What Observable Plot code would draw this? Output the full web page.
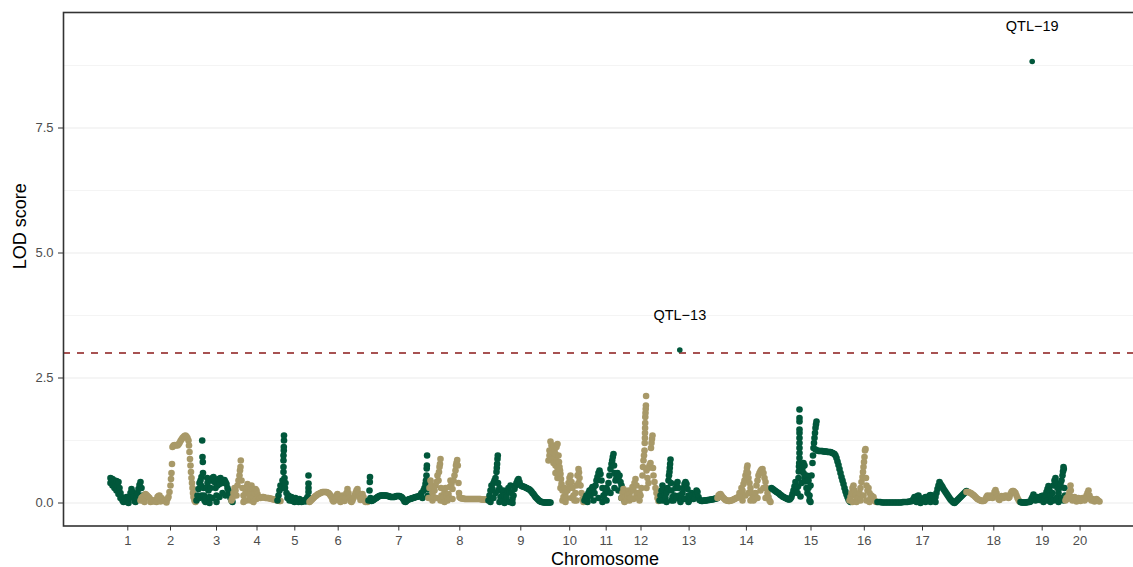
<!DOCTYPE html>
<html><head><meta charset="utf-8">
<script src="https://cdn.jsdelivr.net/npm/d3@7"></script>
<script src="https://cdn.jsdelivr.net/npm/@observablehq/plot@0.6"></script>
<style>html,body{margin:0;padding:0;background:#fff;overflow:hidden;} svg{max-width:none !important;}</style>
</head><body><div id="chart"></div>
<script>
// Cumulative genome position (cM) and LOD score per marker, one array per chromosome
const chr1 = [[47,0.5],[47,0.4],[48,0.45],[49,0.48],[49,0.35],[50,0.42],[51,0.45],[51,0.3],[52,0.38],[53,0.44],[53,0.25],[54,0.35],[55,0.42],[55,0.18],[56,0.3],[57,0.2],[57,0.1],[58,0.12],[59,0.05],[60,0.02],[61,0.08],[62,0.03],[63,0.12],[64,0.05],[65,0.0],[66,0.1],[67,0.2],[68,0.28],[69,0.22],[70,0.12],[71,0.04],[72,0.02],[73,0.1],[74,0.2],[75,0.28],[76,0.36],[77,0.42],[78,0.3],[79,0.15],[80,0.05]];
const chr2 = [[77,0.05],[78,0.1],[79,0.12],[80,0.14],[81,0.02],[82,0.18],[83,0.16],[84,0.14],[85,0.12],[86,0.1],[87,0.02],[88,0.06],[89,0.04],[90,0.03],[91,0.04],[92,0.06],[93,0.02],[94,0.12],[95,0.14],[96,0.15],[97,0.03],[98,0.1],[99,0.07],[100,0.05],[101,0.04],[102,0.04],[103,0.01],[104,0.08],[105,0.12],[106,0.22],[107,0.35],[107.5,0.48],[108,0.6],[108.5,0.78],[109,1.12],[110,1.15],[111,1.16],[112,1.15],[113,1.16],[114,1.15],[115,1.17],[116,1.2],[117,1.24],[118,1.27],[119,1.3],[120,1.32],[121,1.34],[122,1.35],[123,1.33],[124,1.3],[125,1.25],[125.5,1.15],[126,1.02],[126.5,0.88],[127,0.75],[127.5,0.62],[128,0.5],[128.5,0.4],[129,0.3],[129.5,0.2],[130,0.12],[131,0.05],[132,0.02]];
const chr3 = [[133,0.05],[134,0.15],[135,0.28],[136,0.4],[136,0.1],[137,0.45],[137.5,0.35],[138,0.52],[138,0.15],[138.7,1.25],[139,0.92],[139.3,0.82],[139.5,0.6],[140,0.3],[140.5,0.15],[141,0.05],[142,0.1],[142,0.02],[143,0.3],[143.7,0.5],[144,0.4],[145,0.25],[146,0.12],[146,0.0],[147,0.3],[148,0.45],[149,0.5],[149,0.1],[150,0.52],[151,0.42],[152,0.3],[153,0.15],[153,0.02],[154,0.35],[155,0.48],[156,0.38],[156,0.12],[157,0.5],[158,0.45],[159,0.4],[159,0.2],[160,0.45],[161,0.46],[162,0.42],[162,0.15],[163,0.38],[164,0.3],[165,0.25],[166,0.15],[167,0.1],[168,0.05],[169,0.02]];
const chr4 = [[168,0.05],[169,0.1],[170,0.2],[171,0.3],[172,0.25],[173,0.15],[174,0.35],[175,0.45],[176,0.55],[176.5,0.65],[177,0.72],[177.3,0.85],[178,0.45],[179,0.3],[180,0.15],[180,0.02],[181,0.05],[182,0.2],[183,0.32],[183,0.05],[184,0.38],[185,0.3],[186,0.15],[187,0.25],[187,0.05],[188,0.35],[189,0.28],[190,0.12],[190,0.02],[191,0.2],[192,0.28],[193,0.25],[193,0.08],[194,0.18],[195,0.12],[196,0.11],[197,0.1],[198,0.11],[199,0.12],[200,0.12],[201,0.11],[202,0.1],[203,0.1],[204,0.1],[205,0.1],[206,0.09],[207,0.09],[208,0.08],[209,0.08],[210,0.07],[211,0.07],[212,0.06],[213,0.06],[214,0.05],[215,0.05],[216,0.04],[217,0.04]];
const chr5 = [[214,0.05],[215,0.15],[216,0.25],[217,0.35],[218,0.3],[219,0.45],[220,0.62],[220,0.72],[220,0.85],[220,0.95],[220.3,1.05],[220.3,1.12],[220.5,1.25],[220.5,1.35],[221,0.5],[221.5,0.3],[222,0.4],[223,0.2],[224,0.1],[225,0.15],[226,0.05],[227,0.1],[228,0.12],[229,0.04],[230,0.08],[231,0.02],[232,0.1],[233,0.06],[234,0.04],[235,0.02],[236,0.08],[237,0.05],[238,0.02],[239,0.03],[240,0.04],[241,0.06],[242,0.03],[243,0.08],[244,0.12],[245,0.55],[245,0.39],[245,0.3],[245,0.22],[245.5,0.1],[246,0.05]];
const chr6 = [[246,0.02],[247,0.04],[248,0.06],[249,0.08],[250,0.1],[251,0.12],[252,0.14],[253,0.15],[254,0.17],[255,0.18],[256,0.19],[257,0.2],[258,0.21],[259,0.22],[260,0.22],[261,0.22],[262,0.22],[263,0.22],[264,0.21],[265,0.2],[266,0.18],[267,0.15],[268,0.12],[269,0.06],[270,0.03],[271,0.05],[272,0.1],[273,0.15],[274,0.18],[275,0.12],[276,0.05],[277,0.02],[278,0.08],[279,0.15],[280,0.1],[281,0.04],[282,0.1],[283,0.2],[284,0.28],[285,0.2],[286,0.1],[287,0.04],[288,0.02],[289,0.05],[290,0.1],[291,0.15],[292,0.2],[293,0.25],[294,0.28],[295,0.2],[296,0.12],[297,0.06],[298,0.1],[299,0.18],[300,0.12],[301,0.05],[302,0.02],[303,0.04],[304,0.02]];
const chr7 = [[305,0.05],[306,0.25],[306.3,0.42],[306.5,0.52],[307,0.1],[308,0.04],[309,0.05],[310,0.06],[311,0.08],[312,0.09],[313,0.1],[314,0.12],[315,0.13],[316,0.14],[317,0.15],[318,0.15],[319,0.15],[320,0.15],[321,0.15],[322,0.15],[323,0.15],[324,0.14],[325,0.14],[326,0.13],[327,0.12],[328,0.12],[329,0.12],[330,0.12],[331,0.12],[332,0.13],[333,0.14],[334,0.14],[335,0.14],[336,0.14],[337,0.13],[338,0.12],[339,0.1],[340,0.07],[341,0.03],[342,0.02],[343,0.04],[344,0.06],[345,0.07],[346,0.08],[347,0.08],[348,0.09],[349,0.1],[350,0.1],[351,0.11],[352,0.12],[353,0.12],[354,0.13],[355,0.13],[356,0.14],[357,0.16],[358,0.2],[359,0.1],[360,0.25],[361,0.3],[362,0.38],[362.5,0.45],[363,0.55],[363.2,0.69],[363.4,0.75],[363.6,0.95],[364,0.28],[364.5,0.15]];
const chr8 = [[365,0.1],[366,0.3],[367,0.45],[368,0.35],[369,0.2],[369,0.05],[370,0.12],[371,0.25],[372,0.35],[373,0.42],[373,0.1],[374,0.55],[375,0.45],[375.5,0.62],[376,0.72],[376.5,0.78],[377,0.88],[377.5,0.3],[377,0.05],[378,0.15],[379,0.05],[380,0.12],[381,0.22],[381,0.02],[382,0.3],[383,0.15],[384,0.05],[385,0.18],[386,0.32],[386,0.1],[387,0.45],[388,0.38],[389,0.28],[389,0.08],[390,0.45],[391,0.55],[392,0.65],[392.5,0.75],[393,0.8],[393.7,0.86],[394.3,0.75],[395,0.4],[395.5,0.2],[396,0.12],[397,0.1],[398,0.09],[399,0.09],[400,0.09],[401,0.08],[402,0.08],[403,0.08],[404,0.08],[405,0.08],[406,0.08],[407,0.08],[408,0.08],[409,0.08],[410,0.08],[411,0.08],[412,0.08],[413,0.08],[414,0.08],[415,0.08],[416,0.08],[417,0.08],[418,0.07],[419,0.07],[420,0.07],[421,0.07],[422,0.07],[423,0.07]];
const chr9 = [[425,0.05],[426,0.15],[427,0.25],[427,0.02],[428,0.35],[429,0.28],[430,0.4],[430,0.1],[431,0.45],[432,0.5],[432,0.2],[433,0.62],[433.3,0.7],[433.6,0.78],[434,0.88],[434.3,0.95],[434.5,0.4],[435,0.25],[436,0.3],[436,0.02],[437,0.12],[438,0.05],[439,0.15],[440,0.25],[441,0.15],[441,0.0],[442,0.05],[443,0.12],[444,0.25],[445,0.3],[446,0.22],[446,0.02],[447,0.35],[448,0.2],[449,0.08],[449,0.0],[450,0.15],[451,0.28],[452,0.35],[453,0.4],[454,0.45],[455,0.48],[456,0.42],[457,0.36],[458,0.34],[459,0.33],[460,0.33],[461,0.32],[462,0.31],[463,0.3],[464,0.29],[465,0.28],[466,0.27],[467,0.25],[468,0.23],[469,0.2],[470,0.18],[471,0.15],[472,0.12],[473,0.1],[474,0.08],[475,0.06],[476,0.04],[477,0.03],[478,0.02],[479,0.02],[480,0.01],[481,0.01],[482,0.01],[483,0.01],[484,0.01],[485,0.01],[486,0.01],[487,0.01]];
const chr10 = [[485,0.85],[486,1.05],[486,0.95],[487,1.23],[487,1.0],[488,1.15],[488,0.9],[489,1.1],[489,0.88],[490,1.15],[490,0.8],[491,1.05],[491,0.9],[492,0.98],[492,0.75],[492,0.6],[493,1.12],[493,0.85],[494,1.18],[494,0.7],[494,0.5],[495,0.95],[495.5,0.82],[496,0.72],[496.5,0.65],[497,0.58],[497,0.3],[497.5,0.48],[498,0.38],[499,0.25],[499,0.05],[500,0.12],[501,0.3],[502,0.2],[502,0.02],[503,0.1],[504,0.25],[505,0.4],[506,0.5],[506,0.3],[507,0.55],[508,0.42],[508,0.1],[509,0.3],[510,0.15],[511,0.05],[512,0.2],[513,0.35],[513,0.05],[514,0.55],[515,0.68],[515,0.4],[515.5,0.61],[516,0.5],[517,0.35],[518,0.2],[519,0.08],[520,0.02]];
const chr11 = [[521,0.05],[522,0.1],[523,0.15],[524,0.1],[524,0.02],[525,0.2],[526,0.25],[527,0.15],[528,0.28],[529,0.32],[530,0.3],[530,0.05],[531,0.2],[532,0.35],[533,0.45],[534,0.52],[535,0.6],[535,0.1],[536,0.65],[537,0.58],[538,0.45],[539,0.3],[539,0.02],[540,0.15],[541,0.08],[542,0.2],[543,0.3],[543,0.05],[544,0.25],[545,0.4],[546,0.55],[547,0.68],[547,0.2],[548,0.78],[548.7,0.85],[549.3,0.92],[550,0.98],[550.5,0.75],[551,0.6],[551,0.3],[552,0.45],[553,0.52],[554,0.6],[555,0.5],[555,0.25],[556,0.55],[557,0.42],[558,0.35],[558,0.1],[559,0.25],[560,0.15],[561,0.05]];
const chr12 = [[558,0.1],[559,0.2],[560,0.28],[561,0.22],[561,0.02],[562,0.12],[563,0.05],[564,0.15],[565,0.25],[566,0.18],[566,0.05],[567,0.1],[568,0.25],[569,0.32],[570,0.25],[570,0.08],[571,0.4],[572,0.48],[573,0.35],[573,0.15],[574,0.2],[575,0.1],[576,0.05],[576,0.2],[577,0.15],[578,0.3],[579,0.55],[579.5,0.72],[580,0.85],[580.5,0.95],[581,1.05],[581.2,1.2],[581.4,1.3],[581.5,1.4],[581.6,1.5],[581.7,1.6],[581.8,1.72],[582,1.8],[582.2,1.88],[582.4,1.95],[582.6,2.14],[583,0.65],[583,0.3],[584,0.5],[585,0.7],[585,0.4],[586,0.75],[587,0.8],[587.5,1.1],[588,1.2],[588.5,1.28],[589,1.35],[589.5,0.7],[590,0.55],[591,0.42],[592,0.3],[593,0.2],[594,0.1],[595,0.04]];
const chr13 = [[596,0.05],[597,0.15],[598,0.25],[599,0.35],[599,0.05],[600,0.28],[601,0.15],[602,0.1],[603,0.2],[603,0.02],[604,0.3],[605,0.45],[605.5,0.55],[606,0.62],[606.3,0.7],[606.6,0.78],[607,0.87],[607.5,0.4],[608,0.25],[608,0.05],[609,0.12],[610,0.05],[611,0.15],[612,0.3],[613,0.38],[613,0.1],[614,0.42],[615,0.3],[616,0.15],[617,0.05],[617,0.02],[618,0.1],[619,0.2],[620,0.3],[621,0.38],[621,0.08],[622,0.42],[623,0.38],[624,0.28],[625,0.15],[625,0.02],[626,0.06],[627,0.12],[628,0.2],[629,0.15],[630,0.08],[631,0.1],[632,0.18],[633,0.25],[634,0.22],[635,0.12],[636,0.06],[637,0.05],[638,0.04],[639,0.04],[640,0.05],[641,0.05],[642,0.05],[643,0.05],[644,0.06],[645,0.06],[646,0.06],[647,0.07],[648,0.07],[649,0.07],[650,0.08],[651,0.08],[652,0.09],[653,0.09],[654,0.1]];
const chr14 = [[654,0.1],[655,0.15],[656,0.17],[657,0.18],[658,0.15],[659,0.12],[660,0.1],[661,0.08],[662,0.06],[663,0.05],[664,0.05],[665,0.04],[666,0.04],[667,0.05],[668,0.05],[669,0.06],[670,0.07],[671,0.08],[672,0.09],[673,0.1],[674,0.11],[675,0.12],[676,0.2],[677,0.15],[678,0.3],[679,0.25],[679,0.05],[680,0.38],[681,0.45],[682,0.55],[682,0.15],[683,0.62],[683.5,0.7],[684,0.75],[684.5,0.6],[685,0.5],[685,0.2],[686,0.4],[687,0.3],[687,0.05],[688,0.2],[689,0.1],[690,0.05],[691,0.08],[692,0.2],[693,0.35],[694,0.45],[694,0.1],[695,0.55],[696,0.6],[697,0.64],[697,0.25],[698,0.67],[699,0.68],[700,0.6],[700,0.3],[701,0.5],[702,0.42],[702,0.1],[703,0.3],[704,0.2],[705,0.12],[706,0.05],[707,0.02]];
const chr15 = [[708,0.3],[709,0.28],[710,0.27],[711,0.25],[712,0.24],[713,0.22],[714,0.21],[715,0.2],[716,0.18],[717,0.16],[718,0.15],[719,0.13],[720,0.12],[721,0.11],[722,0.1],[723,0.09],[724,0.08],[725,0.07],[726,0.07],[727,0.09],[728,0.12],[729,0.18],[730,0.25],[731,0.33],[732,0.42],[733,0.3],[734,0.2],[734.5,0.33],[735,0.5],[735.3,0.63],[735.5,0.73],[735.7,0.8],[736,0.9],[736,1.0],[736,1.1],[736,1.2],[736,1.3],[736,1.4],[736,1.47],[736,1.63],[736,1.7],[736,1.87],[737,0.13],[738,0.4],[739,0.7],[740,0.6],[740,0.8],[741,0.5],[741,0.75],[742,0.43],[743,0.3],[743,0.55],[744,0.2],[744,0.45],[745,0.45],[745,0.3],[746,0.15],[746,0.05],[747,0.35],[747,0.02],[748,0.55],[749,0.8],[749.5,0.95],[750,1.1],[750.5,1.2],[751,1.3],[751.5,1.4],[752,1.5],[752.5,1.57],[753,1.63],[752,1.07],[754,1.05],[755,1.04],[756,1.04],[757,1.04],[758,1.04],[759,1.04],[760,1.03],[761,1.03],[762,1.03],[763,1.03],[764,1.02],[765,1.02],[766,1.02],[767,1.02],[768,1.01],[769,1.0],[770,0.99],[771,0.98],[772,0.95],[773,0.9],[774,0.83],[775,0.76],[776,0.68],[777,0.6],[778,0.52],[779,0.45],[780,0.38],[781,0.3],[782,0.23],[783,0.17],[784,0.12],[785,0.07],[786,0.04],[787,0.02]];
const chr16 = [[786,0.05],[787,0.12],[788,0.2],[789,0.3],[789,0.02],[790,0.35],[791,0.25],[792,0.15],[793,0.08],[793,0.02],[794,0.05],[795,0.1],[796,0.2],[797,0.3],[797,0.05],[798,0.42],[799,0.52],[799.5,0.62],[800,0.72],[800,0.15],[800.5,0.82],[801,0.92],[801.5,1.05],[802,1.08],[802.5,0.5],[803,0.35],[803,0.05],[804,0.25],[805,0.3],[806,0.2],[806,0.02],[807,0.1],[808,0.15],[809,0.08],[810,0.12],[811,0.05],[812,0.03],[813,0.02]];
const chr17 = [[814,0.02],[815.5,0.02],[817,0.02],[818.5,0.01],[820,0.01],[821.5,0.01],[823,0.01],[824.5,0.01],[826,0.01],[827.5,0.01],[829,0.01],[830.5,0.01],[832,0.01],[833.5,0.01],[835,0.01],[836.5,0.01],[838,0.01],[839.5,0.02],[841,0.02],[842.5,0.02],[844,0.02],[845.5,0.03],[847,0.03],[848.5,0.04],[849,0.05],[850,0.08],[851,0.12],[852,0.05],[853,0.1],[853,0.02],[854,0.14],[855,0.15],[856,0.1],[857,0.05],[857,0.0],[858,0.08],[859,0.04],[860,0.06],[861,0.1],[862,0.12],[862,0.02],[863,0.08],[864,0.05],[865,0.12],[866,0.15],[867,0.16],[867,0.02],[868,0.12],[869,0.15],[870,0.1],[871,0.05],[872,0.12],[872,0.02],[873,0.2],[874,0.28],[875,0.35],[876,0.42],[877,0.38],[878,0.35],[879,0.32],[880,0.28],[881,0.25],[882,0.22],[883,0.19],[884,0.16],[885,0.13],[886,0.1],[887,0.07],[888,0.05],[889,0.03],[890,0.01],[891,0.0],[892,0.02],[893,0.04],[894,0.06],[895,0.08],[896,0.1],[897,0.12],[898,0.14],[899,0.16],[900,0.18],[901,0.2],[902,0.22],[903,0.24]];
const chr18 = [[903,0.22],[904,0.22],[905,0.22],[906,0.21],[907,0.2],[908,0.19],[909,0.17],[910,0.16],[911,0.14],[912,0.12],[913,0.1],[914,0.08],[915,0.07],[916,0.06],[917,0.05],[918,0.04],[919,0.04],[920,0.04],[921,0.05],[922,0.08],[923,0.12],[924,0.15],[925,0.1],[926,0.12],[927,0.15],[928,0.12],[929,0.1],[930,0.15],[931,0.22],[932,0.26],[933,0.2],[934,0.12],[935,0.08],[936,0.06],[937,0.1],[938,0.14],[939,0.12],[940,0.1],[941,0.12],[942,0.15],[943,0.14],[944,0.12],[945,0.1],[946,0.12],[947,0.18],[948,0.22],[949,0.24],[950,0.24],[951,0.22],[952,0.2],[953,0.15],[954,0.1],[955,0.06],[956,0.03]];
const chr19 = [[957,0.02],[958,0.01],[959,0.01],[960,0.01],[961,0.01],[962,0.01],[963,0.01],[964,0.02],[965,0.02],[966,0.02],[967,0.03],[968,0.08],[969,0.12],[970,0.17],[971,0.1],[972,0.05],[973,0.08],[974,0.12],[975,0.1],[976,0.06],[977,0.1],[978,0.14],[979,0.12],[980,0.15],[980,0.02],[981,0.1],[982,0.15],[983,0.22],[984,0.28],[984,0.05],[985,0.34],[986,0.25],[987,0.15],[987,0.02],[988,0.08],[989,0.2],[990,0.35],[990,0.05],[991,0.45],[992,0.5],[993,0.4],[993,0.1],[994,0.3],[995,0.2],[995,0.02],[996,0.3],[997,0.38],[998,0.45],[998,0.1],[999,0.55],[999.5,0.63],[1000,0.72],[1000,0.05],[1000.3,0.68],[1001,0.3],[1001.5,0.15]];
const chr20 = [[1002,0.05],[1003,0.1],[1004,0.08],[1005,0.15],[1006,0.22],[1007,0.35],[1007.3,0.25],[1008,0.12],[1009,0.05],[1010,0.08],[1011,0.12],[1012,0.06],[1013,0.03],[1014,0.06],[1015,0.1],[1016,0.08],[1017,0.04],[1018,0.07],[1019,0.1],[1020,0.08],[1021,0.05],[1022,0.08],[1023,0.15],[1024,0.2],[1025,0.25],[1026,0.15],[1027,0.08],[1028,0.05],[1029,0.08],[1030,0.05],[1031,0.03],[1032,0.06],[1033,0.08],[1034,0.06],[1035,0.04],[1036,0.03]];

const chromosomes = [chr1,chr2,chr3,chr4,chr5,chr6,chr7,chr8,chr9,chr10,chr11,chr12,chr13,chr14,chr15,chr16,chr17,chr18,chr19,chr20];
const chrTickPos = [64.3,107,153,193.5,231.3,274.7,335.3,396.3,457.3,506.2,542.7,577.5,625.6,682.9,747.5,800.8,859,930.3,978.7,1016.6];
const chrLabels = ["1","2","3","4","5","6","7","8","9","10","11","12","13","14","15","16","17","18","19","20"];
const peakNames = ["QTL\u221213","QTL\u221219"];
const peakPos = [616.3, 968.7];
const peakLod = [3.06, 8.83];
const threshold = 3;
const yTicks = [0, 2.5, 5, 7.5];
const yTickLabels = ["0.0","2.5","5.0","7.5"];
const yMinor = [1.25, 3.75, 6.25, 8.75];
const green = "#01573B";
const tan = "#A89968";

const rows = [];
chromosomes.forEach((arr, i) => arr.forEach(([pos, lod]) => rows.push({chr: i + 1, pos, lod, group: i % 2 === 0 ? "odd" : "even"})));
const peaks = peakNames.map((name, i) => ({name, pos: peakPos[i], lod: peakLod[i]}));
const xLabel = new Map(chrTickPos.map((p, i) => [p, chrLabels[i]]));
const yLabel = new Map(yTicks.map((v, i) => [v, yTickLabels[i]]));

const chart = Plot.plot({
  width: 1146, height: 567,
  marginLeft: 63, marginRight: 0, marginTop: 12, marginBottom: 41.5,
  style: {fontFamily: "'Liberation Sans', Arial, sans-serif", fontSize: "13px", color: "#4d4d4d", background: "white", overflow: "visible", maxWidth: "none"},
  x: {domain: [0, 1083]},
  y: {domain: [-0.46, 9.81]},
  color: {domain: ["odd", "even"], range: [green, tan]},
  marks: [
    Plot.ruleY(yMinor, {stroke: "#ececec", strokeWidth: 0.6}),
    Plot.ruleY(yTicks, {stroke: "#ebebeb", strokeWidth: 1.2}),
    Plot.ruleY([threshold], {stroke: "#8B1A1A", strokeWidth: 1.4, strokeDasharray: "7,7"}),
    Plot.dot(rows, {x: "pos", y: "lod", fill: "group", r: 3.3}),
    Plot.dot(peaks, {x: "pos", y: "lod", fill: green, r: 2.8}),
    Plot.text(peaks, {x: "pos", y: "lod", text: "name", dy: -35, fill: "black", fontSize: 14.5}),
    Plot.frame({stroke: "#333333", strokeWidth: 1.6}),
    Plot.axisX(chrTickPos, {anchor: "bottom", tickSize: 5, tickPadding: 5, stroke: "#333333", tickFormat: d => xLabel.get(d), label: null, fontSize: 13}),
    Plot.axisY(yTicks, {anchor: "left", tickSize: 5, tickPadding: 5, stroke: "#333333", tickFormat: d => yLabel.get(d), label: null, fontSize: 13}),
    Plot.text(["Chromosome"], {text: d => d, frameAnchor: "bottom", lineAnchor: "middle", dy: 33, fill: "black", fontSize: 18}),
    Plot.text(["LOD score"], {text: d => d, frameAnchor: "left", lineAnchor: "middle", dx: -43, rotate: -90, fill: "black", fontSize: 18})
  ]
});
document.getElementById("chart").appendChild(chart);
</script>
</body></html>
